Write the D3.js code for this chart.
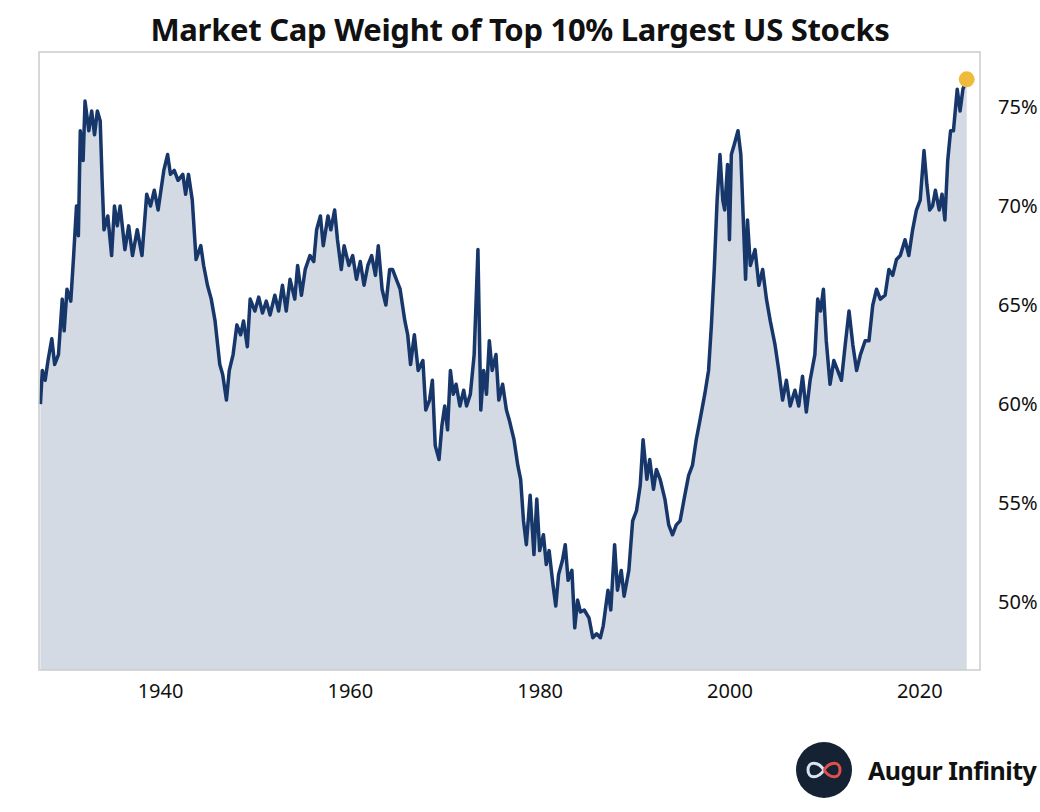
<!DOCTYPE html>
<html><head><meta charset="utf-8">
<script src="https://cdn.jsdelivr.net/npm/d3@7"></script>
<style>body{margin:0;background:#fff}svg{display:block}</style>
</head><body>
<svg width="1040" height="812"></svg>
<script>
// decimal years and market cap weight (%)
const years = [1927.4,1927.6,1927.9,1928.2,1928.6,1928.9,1929.3,1929.7,1929.9,1930.2,1930.6,1930.9,1931.2,1931.4,1931.6,1931.9,1932.1,1932.5,1932.8,1933.1,1933.4,1933.7,1933.9,1934.1,1934.5,1934.9,1935.2,1935.5,1935.8,1936.3,1936.7,1937.1,1937.6,1938.1,1938.6,1939.0,1939.4,1939.8,1940.4,1940.8,1941.1,1941.5,1941.9,1942.4,1942.7,1943.0,1943.4,1943.8,1944.3,1944.6,1945.0,1945.4,1945.8,1946.3,1946.6,1947.0,1947.3,1947.7,1948.1,1948.5,1948.8,1949.2,1949.5,1950.0,1950.4,1950.8,1951.2,1951.6,1952.1,1952.5,1952.9,1953.3,1953.7,1954.2,1954.5,1954.9,1955.3,1955.8,1956.2,1956.5,1956.9,1957.2,1957.7,1958.0,1958.4,1958.7,1959.1,1959.4,1959.9,1960.3,1960.7,1961.1,1961.5,1961.9,1962.3,1962.7,1963.0,1963.4,1963.8,1964.2,1964.5,1964.9,1965.3,1965.8,1966.1,1966.4,1966.8,1967.2,1967.7,1968.0,1968.4,1968.7,1969.0,1969.4,1969.7,1970.0,1970.3,1970.6,1970.9,1971.2,1971.6,1972.0,1972.3,1972.7,1973.1,1973.5,1973.8,1974.1,1974.4,1974.7,1975.0,1975.4,1975.7,1976.1,1976.5,1976.8,1977.3,1977.7,1978.0,1978.3,1978.6,1979.0,1979.4,1979.7,1980.0,1980.4,1980.7,1981.0,1981.4,1981.7,1982.0,1982.4,1982.7,1983.0,1983.4,1983.7,1984.0,1984.3,1984.7,1985.2,1985.6,1986.0,1986.4,1986.7,1987.2,1987.5,1987.9,1988.2,1988.6,1988.9,1989.4,1989.8,1990.2,1990.6,1990.9,1991.3,1991.6,1992.0,1992.3,1992.7,1993.2,1993.6,1994.0,1994.4,1994.8,1995.3,1995.7,1996.1,1996.5,1996.9,1997.4,1997.8,1998.1,1998.4,1998.7,1999.0,1999.3,1999.5,1999.8,2000.0,2000.2,2000.5,2000.9,2001.2,2001.5,2001.7,2001.9,2002.2,2002.7,2003.1,2003.5,2003.9,2004.3,2004.8,2005.2,2005.6,2006.0,2006.4,2006.9,2007.3,2007.7,2008.1,2008.5,2009.0,2009.3,2009.6,2009.9,2010.2,2010.6,2011.0,2011.4,2011.8,2012.2,2012.6,2013.0,2013.4,2013.8,2014.3,2014.7,2015.1,2015.5,2015.9,2016.4,2016.8,2017.2,2017.6,2018.0,2018.5,2018.9,2019.3,2019.7,2020.1,2020.5,2020.8,2021.1,2021.4,2021.7,2022.1,2022.4,2022.7,2023.0,2023.3,2023.6,2024.0,2024.3,2024.6,2025.0];
const weights = [60.0,61.7,61.2,62.2,63.3,62,62.5,65.3,63.7,65.8,65.2,67.5,70,68.5,73.8,72.3,75.3,73.8,74.8,73.6,74.8,74.3,71.3,68.8,69.5,67.5,70,69,70,67.8,69,67.5,68.8,67.5,70.6,70,70.8,69.8,71.8,72.6,71.6,71.8,71.3,71.6,70.6,71.6,70.3,67.3,68,67,66,65.3,64.2,62,61.5,60.2,61.7,62.5,64,63.5,64.2,62.9,65.3,64.7,65.4,64.6,65.2,64.5,65.5,64.7,66,64.7,66.3,65.3,67,65.5,66.8,67.5,67.2,68.8,69.5,68,69.5,68.8,69.8,68.3,66.8,68,67,67.5,66.3,67.2,66,67,67.5,66.5,68,65.8,65,66.8,66.8,66.3,65.8,64.2,63.5,62,63.5,61.7,62.2,59.7,60.2,61.2,57.9,57.2,58.9,59.9,58.7,61.7,60.5,61,59.9,60.7,59.9,60.5,62.5,67.8,59.7,61.7,60.5,63.2,61.7,62.5,60.2,61,59.7,59.2,58.2,56.9,56.2,54.1,52.9,55.4,52.4,55.2,52.6,53.4,51.9,52.6,50.9,49.8,51.4,52.1,52.9,51.1,51.6,48.7,50.1,49.5,49.6,49.2,48.2,48.4,48.2,48.8,50.6,49.6,52.9,50.6,51.6,50.3,51.6,54.1,54.6,55.9,58.2,56.2,57.2,55.7,56.7,56.2,55.2,53.9,53.4,53.9,54.1,55.4,56.4,56.9,58.2,59.2,60.5,61.7,64,66.8,70.3,72.6,70.3,69.8,72.1,68.3,72.6,73.1,73.8,72.6,68.8,66.3,69.3,67,67.8,66,66.8,65.3,64.2,63,61.7,60.2,61.2,59.9,60.7,59.9,61.4,59.6,61.2,62.5,65.3,64.7,65.8,63.2,61,62.2,61.7,61.2,63,64.7,63,61.7,62.5,63.2,63.2,65,65.8,65.3,65.5,66.8,66.5,67.3,67.5,68.3,67.5,68.8,69.8,70.3,72.8,71.1,69.8,70,70.8,69.8,70.6,69.3,72.3,73.8,73.8,75.9,74.8,75.9,76.4];
const yTicks = [50, 55, 60, 65, 70, 75];
const xTicks = [1940, 1960, 1980, 2000, 2020];

const data = years.map((y, i) => ({year: y, v: weights[i]}));

let svg = d3.select('svg'),
    margin = {top: 52, bottom: 142, left: 39, right: 60},
    width = 1040 - margin.left - margin.right,
    height = 812 - margin.top - margin.bottom;

let x = d3.scaleLinear().domain([1927.25, 2026.4]).range([margin.left, margin.left + width]),
    y = d3.scaleLinear().domain([46.57, 77.78]).range([margin.top + height, margin.top]);

// area + line
svg.append('path').datum(data)
    .attr('fill', '#d3dae4')
    .attr('d', d3.area().x(d => x(d.year)).y0(margin.top + height).y1(d => y(d.v)));
svg.append('path').datum(data)
    .attr('fill', 'none').attr('stroke', '#17366a').attr('stroke-width', 3.5)
    .attr('stroke-linejoin', 'round')
    .attr('d', d3.line().x(d => x(d.year)).y(d => y(d.v)));

let last = data[data.length - 1];
svg.append('circle').attr('cx', x(last.year)).attr('cy', y(last.v)).attr('r', 8).attr('fill', '#f0bb3a');

// frame
svg.append('rect').attr('x', margin.left).attr('y', margin.top).attr('width', width).attr('height', height)
    .attr('fill', 'none').attr('stroke', '#cccccc').attr('stroke-width', 1.5);

// axes
let yAxis = svg.append('g').attr('transform', 'translate(' + (margin.left + width) + ',0)')
    .call(d3.axisRight(y).tickValues(yTicks).tickSize(0).tickPadding(18).tickFormat(d => d + '%'));
let xAxis = svg.append('g').attr('transform', 'translate(0,' + (margin.top + height) + ')')
    .call(d3.axisBottom(x).tickValues(xTicks).tickSize(0).tickPadding(14).tickFormat(d3.format('d')));
[yAxis, xAxis].forEach(a => {
    a.select('.domain').remove();
    a.selectAll('text').attr('font-family', 'Noto Sans').attr('font-size', 20).attr('fill', '#111');
});

// title
svg.append('text').attr('x', 520).attr('y', 41).attr('text-anchor', 'middle')
    .attr('font-family', 'Noto Sans').attr('font-weight', 'bold').attr('font-size', 31)
    .attr('letter-spacing', -0.3).attr('fill', '#111')
    .text('Market Cap Weight of Top 10% Largest US Stocks');

// logo
let logo = svg.append('g').attr('transform', 'translate(824,770)');
logo.append('circle').attr('r', 28).attr('fill', '#142233');
logo.append('path').attr('d', 'M0,0 C-6,-9 -16,-9 -16,0 C-16,9 -6,9 0,0')
    .attr('fill', 'none').attr('stroke', '#d9e4f2').attr('stroke-width', 3);
logo.append('path').attr('d', 'M0,0 C6,-9 16,-9 16,0 C16,9 6,9 0,0')
    .attr('fill', 'none').attr('stroke', '#e0504a').attr('stroke-width', 3);
svg.append('text').attr('x', 868).attr('y', 780)
    .attr('font-family', 'Noto Sans').attr('font-weight', 'bold').attr('font-size', 25)
    .attr('letter-spacing', -0.5).attr('fill', '#111').text('Augur Infinity');
</script>
</body></html>
